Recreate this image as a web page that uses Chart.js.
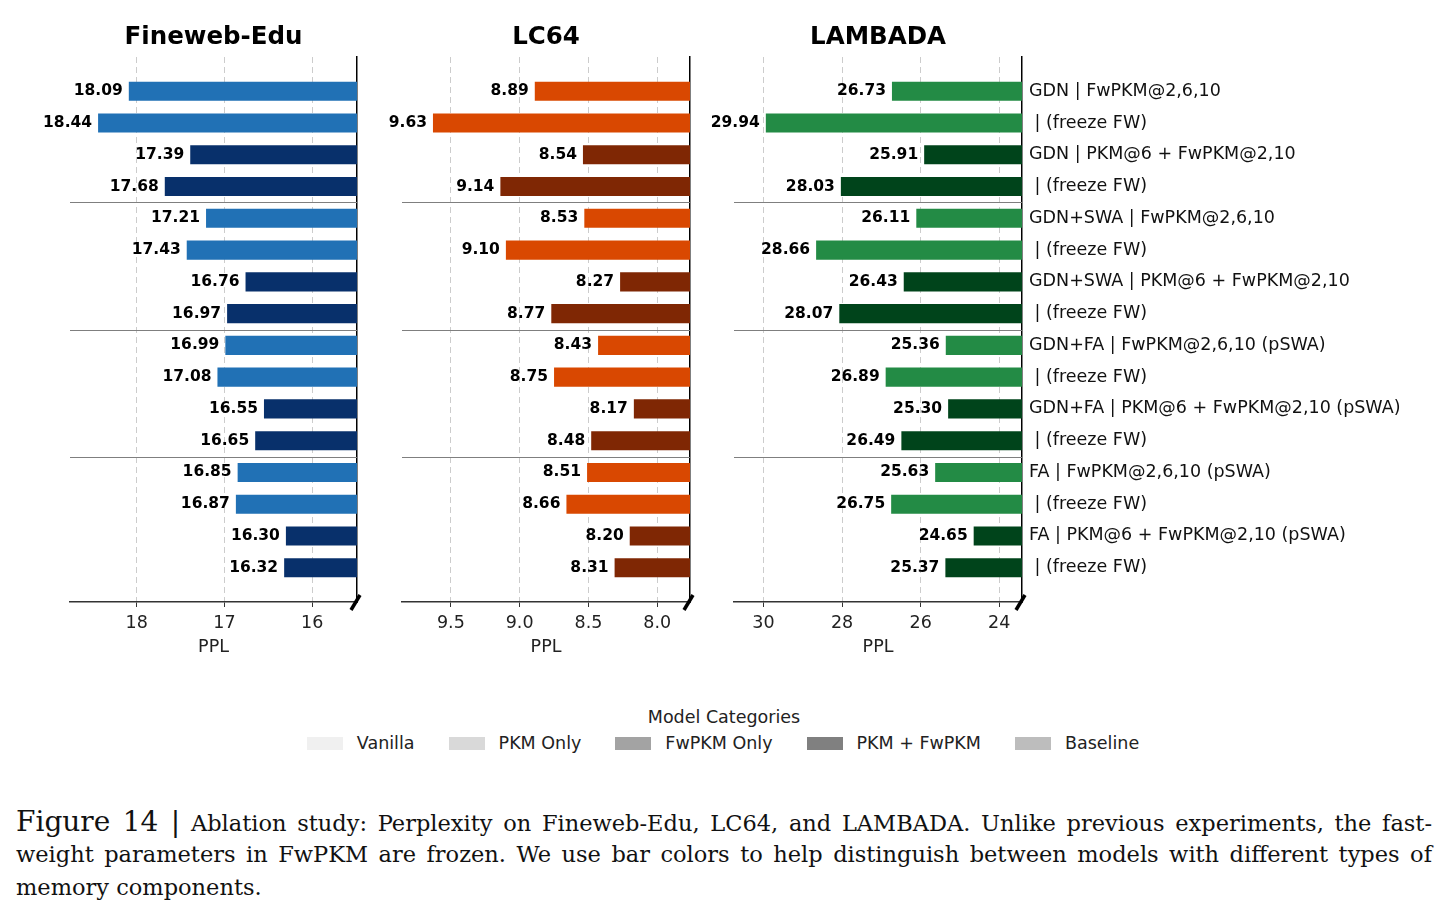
<!DOCTYPE html>
<html>
<head>
<meta charset="utf-8">
<script src="https://cdn.jsdelivr.net/npm/chart.js@4.4.1/dist/chart.umd.min.js"></script>
<style>
  body { margin: 0; background: #fff; width: 1448px; height: 911px; position: relative; overflow: hidden; font-family: "DejaVu Sans", sans-serif; }
  canvas { position: absolute; top: 0; }
  #legend { position: absolute; top: 707px; left: 0; width: 1448px; text-align: center; color: #222; font-size: 17.5px; }
  #legend .items { display: flex; justify-content: center; align-items: center; margin-top: 6px; margin-left: -2px; }
  #legend .item { display: flex; align-items: center; margin: 0 17px; }
  #legend .box { width: 36px; height: 13px; margin-right: 14px; }
  #caption { position: absolute; left: 16px; top: 805px; width: 1416px; font-family: "DejaVu Serif", serif; font-size: 22.5px; color: #111; }
  #caption div { text-align: justify; text-align-last: justify; height: 33px; line-height: 33px; white-space: nowrap; }
  #caption div.last { text-align-last: left; }
  #caption .fig { font-size: 28px; }
</style>
</head>
<body>
<canvas id="c1" width="380" height="670" style="left:0px"></canvas>
<canvas id="c2" width="345" height="670" style="left:370px"></canvas>
<canvas id="c3" width="748" height="670" style="left:700px"></canvas>

<div id="legend">
  <div>Model Categories</div>
  <div class="items" id="legendItems"></div>
</div>

<div id="caption">
  <div><span class="fig">Figure 14 |</span> Ablation study: Perplexity on Fineweb-Edu, LC64, and LAMBADA. Unlike previous experiments, the fast-</div>
  <div>weight parameters in FwPKM are frozen. We use bar colors to help distinguish between models with different types of</div>
  <div class="last">memory components.</div>
</div>

<script>
const rowLabels = [
  "GDN | FwPKM@2,6,10", " | (freeze FW)",
  "GDN | PKM@6 + FwPKM@2,10", " | (freeze FW)",
  "GDN+SWA | FwPKM@2,6,10", " | (freeze FW)",
  "GDN+SWA | PKM@6 + FwPKM@2,10", " | (freeze FW)",
  "GDN+FA | FwPKM@2,6,10 (pSWA)", " | (freeze FW)",
  "GDN+FA | PKM@6 + FwPKM@2,10 (pSWA)", " | (freeze FW)",
  "FA | FwPKM@2,6,10 (pSWA)", " | (freeze FW)",
  "FA | PKM@6 + FwPKM@2,10 (pSWA)", " | (freeze FW)"
];
// which memory type each row uses: "fw" = FwPKM only, "both" = PKM + FwPKM
const rowKind = ["fw","fw","both","both","fw","fw","both","both","fw","fw","both","both","fw","fw","both","both"];

const finewebPPL = [18.09,18.44,17.39,17.68,17.21,17.43,16.76,16.97,16.99,17.08,16.55,16.65,16.85,16.87,16.30,16.32];
const lc64PPL    = [8.89,9.63,8.54,9.14,8.53,9.10,8.27,8.77,8.43,8.75,8.17,8.48,8.51,8.66,8.20,8.31];
const lambadaPPL = [26.73,29.94,25.91,28.03,26.11,28.66,26.43,28.07,25.36,26.89,25.30,26.49,25.63,26.75,24.65,25.37];

const finewebTicks = [18, 17, 16];
const lc64Ticks = [9.5, 9.0, 8.5, 8.0];
const lambadaTicks = [30, 28, 26, 24];

const legendNames = ["Vanilla", "PKM Only", "FwPKM Only", "PKM + FwPKM", "Baseline"];
const legendColors = ["#f0f0f0", "#d9d9d9", "#a3a3a3", "#808080", "#bdbdbd"];

const groupBreaks = [3.5, 7.5, 11.5];

// legend (just category swatches, not tied to bars)
const li = document.getElementById("legendItems");
legendNames.forEach((n, i) => {
  const d = document.createElement("div");
  d.className = "item";
  d.innerHTML = `<span class="box" style="background:${legendColors[i]}"></span><span>${n}</span>`;
  li.appendChild(d);
});

const extras = {
  id: "extras",
  afterDatasetsDraw(chart) {
    const {ctx, chartArea: a, scales: {y}} = chart;
    ctx.save();
    // group separators
    ctx.strokeStyle = "#7f7f7f";
    ctx.lineWidth = 1.2;
    groupBreaks.forEach(v => {
      const py = Math.round(y.getPixelForValue(v)) + 0.5;
      ctx.beginPath(); ctx.moveTo(a.left, py); ctx.lineTo(a.right, py); ctx.stroke();
    });
    // value labels
    ctx.font = "bold 15.5px 'DejaVu Sans'";
    ctx.fillStyle = "#000";
    ctx.textAlign = "right";
    ctx.textBaseline = "middle";
    chart.getDatasetMeta(0).data.forEach((bar, i) => {
      const v = chart.data.datasets[0].data[i].x;
      ctx.fillText(v.toFixed(2), Math.min(bar.x, bar.base) - 6, bar.y);
    });
    ctx.restore();
  },
  afterDraw(chart) {
    const {ctx, chartArea: a} = chart;
    const o = chart.options.plugins.extras;
    ctx.save();
    ctx.font = "bold 24.5px 'DejaVu Sans'";
    ctx.fillStyle = "#000";
    ctx.textAlign = "center";
    ctx.textBaseline = "middle";
    ctx.fillText(o.title, (a.left + a.right) / 2, 38);
    // axis break mark
    ctx.strokeStyle = "#000";
    ctx.lineWidth = 3.5;
    ctx.beginPath();
    ctx.moveTo(a.right - 6, a.bottom + 8);
    ctx.lineTo(a.right + 3, a.bottom - 7);
    ctx.stroke();
    ctx.restore();
  }
};

function makePanel(id, title, values, light, dark, ticks, xmin, xmax, padLeft, yWidth, showLabels) {
  new Chart(document.getElementById(id), {
    type: "bar",
    data: {
      datasets: [{
        data: values.map((v, i) => ({x: v, y: i})),
        backgroundColor: rowKind.map(k => k === "fw" ? light : dark),
        borderWidth: 0,
        barPercentage: 0.6,
        categoryPercentage: 1.0
      }]
    },
    options: {
      indexAxis: "y",
      responsive: false,
      animation: false,
      layout: { padding: { left: padLeft, top: 57, right: 0, bottom: 0 } },
      scales: {
        x: {
          type: "linear",
          reverse: true,
          min: xmin,
          max: xmax,
          z: 1,
          afterBuildTicks: s => { s.ticks = ticks.map(v => ({value: v})); },
          afterFit: s => { s.height = 68; },
          ticks: {
            font: { family: "DejaVu Sans", size: 17.5 },
            color: "#222",
            padding: 6,
            maxRotation: 0,
            callback: v => ticks.every(Number.isInteger) ? String(v) : v.toFixed(1)
          },
          grid: {
            color: "#cccccc",
            lineWidth: 1,
            tickColor: "#333",
            tickBorderDash: [],
            tickLength: 5,
            tickWidth: 1
          },
          border: { color: "#333", width: 1.5, dash: [6, 4] },
          title: { display: true, text: "PPL", color: "#222", font: { family: "DejaVu Sans", size: 17.5 }, padding: { top: 0, bottom: 12 } }
        },
        y: {
          type: "linear",
          position: "right",
          reverse: true,
          offset: false,
          min: -1.08,
          max: 16.08,
          afterBuildTicks: s => { s.ticks = rowLabels.map((_, i) => ({value: i})); },
          afterFit: s => { s.width = yWidth; },
          ticks: {
            display: showLabels,
            padding: 7,
            color: "#111",
            font: { family: "DejaVu Sans", size: 17.5 },
            callback: v => rowLabels[v]
          },
          grid: { display: false, drawTicks: false, offset: false },
          border: { color: "#000", width: 1.5 }
        }
      },
      plugins: {
        legend: { display: false },
        tooltip: { enabled: false },
        extras: { title: title }
      }
    },
    plugins: [extras]
  });
}

makePanel("c1", "Fineweb-Edu", finewebPPL, "#2171b5", "#08306b", finewebTicks, 15.49, 18.76, 70, 23, false);
makePanel("c2", "LC64", lc64PPL, "#d94801", "#7f2704", lc64Ticks, 7.762, 9.855, 32, 25, false);
makePanel("c3", "LAMBADA", lambadaPPL, "#238b45", "#00441b", lambadaTicks, 23.42, 30.75, 34, 426, true);
</script>
</body>
</html>
